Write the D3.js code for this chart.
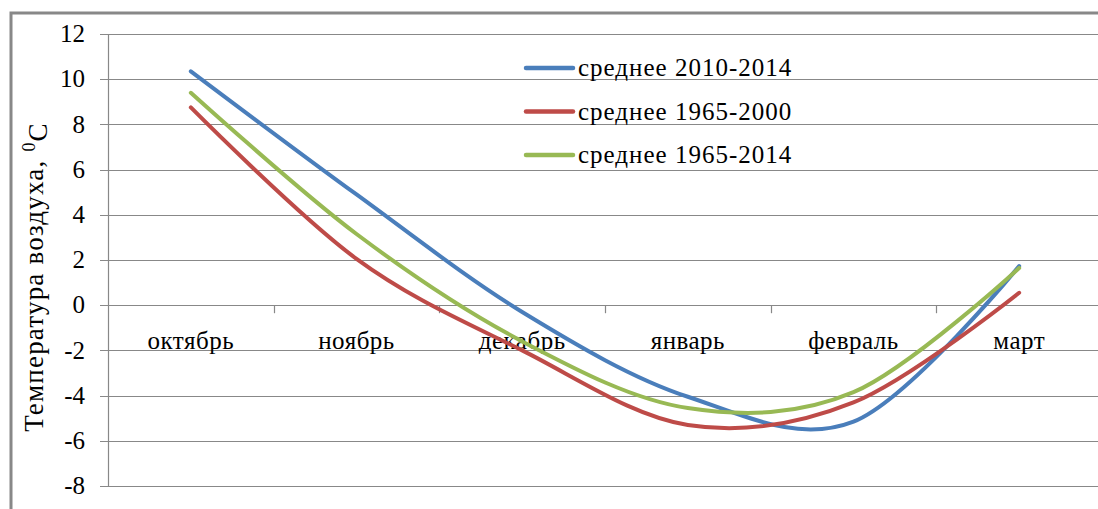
<!DOCTYPE html>
<html>
<head>
<meta charset="utf-8" />
<title>Температура воздуха</title>
<script src="https://d3js.org/d3.v7.min.js"></script>
<style>
  body { margin: 0; background: #fff; }
</style>
</head>
<body>
<div id="chart"></div>
<script>
// months on the category axis
var months = ["октябрь", "ноябрь", "декабрь", "январь", "февраль", "март"];
var yTicks = [-8, -6, -4, -2, 0, 2, 4, 6, 8, 10, 12];

// series
var names = ["среднее 2010-2014", "среднее 1965-2000", "среднее 1965-2014"];
var mean2010_2014 = [10.35, 4.9, -0.3, -4.05, -5.15, 1.73];
var mean1965_2000 = [8.75, 2.05, -2.0, -5.3, -4.3, 0.55];
var mean1965_2014 = [9.4, 3.15, -1.6, -4.55, -3.85, 1.65];
var colours = ["#4a7ebb", "#be4b48", "#98b954"];

var W = 1098, H = 509;
var serif = "'Liberation Serif', 'Times New Roman', 'DejaVu Serif', serif";
var svg = d3.select("#chart").append("svg")
  .attr("width", W).attr("height", H)
  .attr("font-family", serif);

// outer frame (right and bottom edges fall outside the picture)
svg.append("rect")
  .attr("x", 11).attr("y", 13)
  .attr("width", 1100).attr("height", 520)
  .attr("fill", "#fff")
  .attr("stroke", "#888").attr("stroke-width", 3);

var x = d3.scaleBand().domain(months).range([108, 1102]);
var y = d3.scaleLinear().domain([-8, 12]).range([486, 34]);

// horizontal grid + y ticks
svg.append("g").selectAll("line").data(yTicks).enter().append("line")
  .attr("x1", 100).attr("x2", W)
  .attr("y1", function(d){ return Math.round(y(d)) + 0.5; })
  .attr("y2", function(d){ return Math.round(y(d)) + 0.5; })
  .attr("stroke", "#888").attr("stroke-width", 1.2);

svg.append("g").selectAll("text").data(yTicks).enter().append("text")
  .attr("x", 85).attr("y", function(d){ return y(d); })
  .attr("dy", "0.33em")
  .attr("text-anchor", "end")
  .attr("font-size", 25)
  .text(function(d){ return d; });

// value axis line
svg.append("line")
  .attr("x1", 108.5).attr("x2", 108.5)
  .attr("y1", y(12)).attr("y2", y(-8))
  .attr("stroke", "#888").attr("stroke-width", 1.2);

// category axis crosses at 0, with tick marks between months
var bounds = months.map(function(m){ return x(m); });
svg.append("g").selectAll("line").data(bounds.slice(1)).enter().append("line")
  .attr("x1", function(d){ return Math.round(d) + 0.5; })
  .attr("x2", function(d){ return Math.round(d) + 0.5; })
  .attr("y1", y(0)).attr("y2", y(0) + 8)
  .attr("stroke", "#888").attr("stroke-width", 1.2);

svg.append("g").selectAll("text").data(months).enter().append("text")
  .attr("x", function(d){ return x(d) + x.bandwidth() / 2; })
  .attr("y", 349)
  .attr("text-anchor", "middle")
  .attr("font-size", 25)
  .attr("letter-spacing", 0.5)
  .text(function(d){ return d; });

// y axis title
var title = svg.append("text")
  .attr("transform", "translate(43," + 277 + ") rotate(-90)")
  .attr("text-anchor", "middle")
  .attr("font-size", 27)
  .attr("letter-spacing", 1.2);
title.append("tspan").text("Температура воздуха, ");
title.append("tspan").attr("dy", "-0.45em").attr("font-size", 18).text("0");
title.append("tspan").attr("dy", "0.45em").text("C");

// lines
var series = [mean2010_2014, mean1965_2000, mean1965_2014];
var line = d3.line()
  .x(function(d, i){ return x(months[i]) + x.bandwidth() / 2; })
  .y(function(d){ return y(d); })
  .curve(d3.curveCardinal.tension(0));

svg.append("g").selectAll("path").data(series).enter().append("path")
  .attr("d", line)
  .attr("fill", "none")
  .attr("stroke", function(d, i){ return colours[i]; })
  .attr("stroke-width", 4)
  .attr("stroke-linecap", "round");

// legend
var lg = svg.append("g").selectAll("g").data(names).enter().append("g")
  .attr("transform", function(d, i){ return "translate(524," + (68 + i * 43.5) + ")"; });
lg.append("line")
  .attr("x1", 2).attr("x2", 49)
  .attr("stroke", function(d, i){ return colours[i]; })
  .attr("stroke-width", 4.5)
  .attr("stroke-linecap", "round");
lg.append("text")
  .attr("x", 54).attr("dy", "0.33em")
  .attr("font-size", 25)
  .attr("letter-spacing", 1)
  .text(function(d){ return d; });
</script>
</body>
</html>
